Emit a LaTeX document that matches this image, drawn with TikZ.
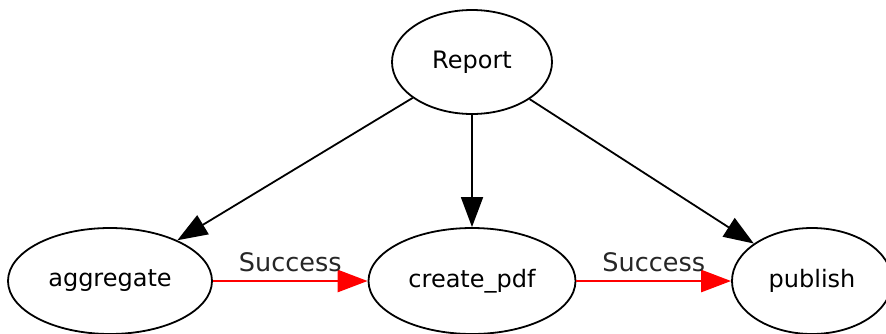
\documentclass[tikz,border=0pt]{standalone}
\usepackage{fontspec}
\setmainfont{DejaVu Sans}
\usetikzlibrary{arrows.meta,shapes.geometric}
\tikzset{
	task/.style={draw, ellipse, line width=1.8pt, inner sep=0pt, font=\fontsize{24}{28}\selectfont},
	flow/.style={line width=1.8pt, -{Triangle[length=30pt,width=22pt]}},
	okflow/.style={flow, red, line width=2.8pt},
	oklabel/.style={above=4pt, text=black!85, font=\fontsize{25.5}{30}\selectfont}
}

\begin{document}
\begin{tikzpicture}[x=1pt, y=-1pt]
		%%%%% START %%%%%
		\useasboundingbox (0, 0) rectangle (886, 333);
		
		\node[task, minimum width=160pt, minimum height=104pt] (report) at (472, 62) {Report};
		\node[task, minimum width=204pt, minimum height=106pt] (aggregate) at (110, 281) {aggregate};
		\node[task, minimum width=207pt, minimum height=106pt] (createpdf) at (472, 281) {create\_pdf};
		\node[task, minimum width=160pt, minimum height=106pt] (publish) at (812, 281) {publish};
		
		\draw[flow] (report) -- (aggregate);
		\draw[flow] (report) -- (createpdf);
		\draw[flow] (report) -- (publish);
		
		\draw[okflow] (aggregate) -- node[oklabel] {Success} (createpdf);
		\draw[okflow] (createpdf) -- node[oklabel] {Success} (publish);
		%%%%% END %%%%%
	\end{tikzpicture}
\end{document}
